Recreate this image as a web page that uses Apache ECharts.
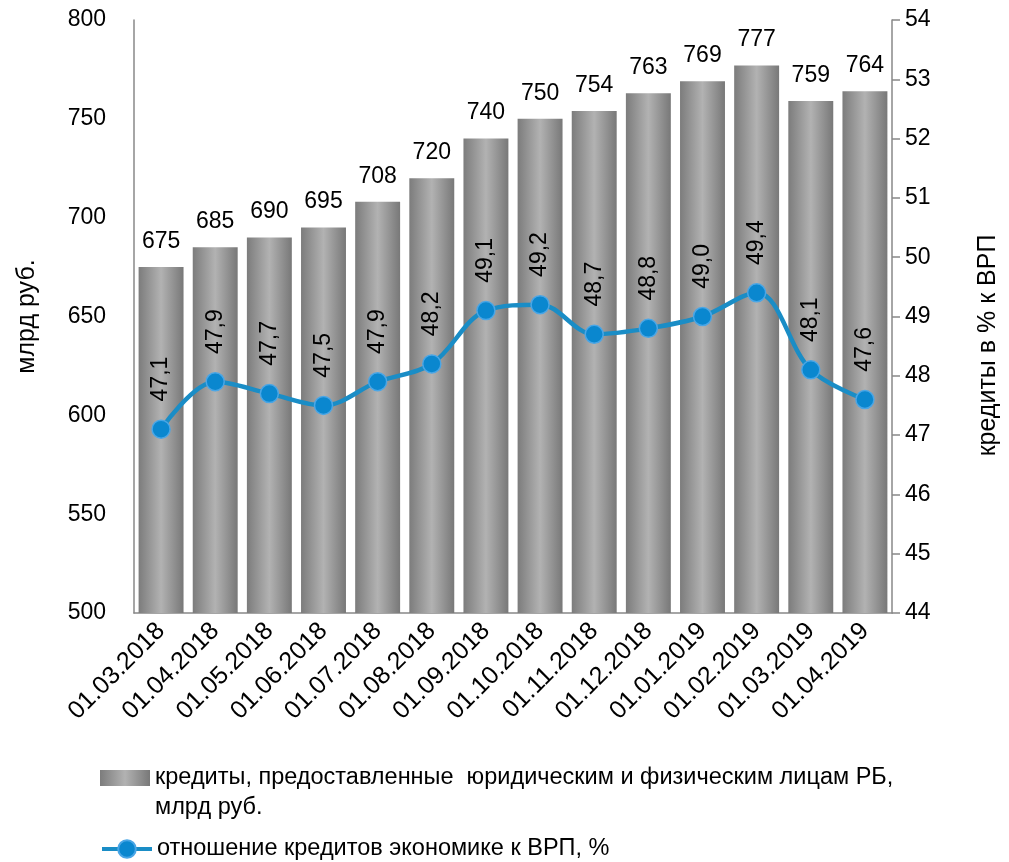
<!DOCTYPE html>
<html>
<head>
<meta charset="utf-8">
<script src="https://cdn.jsdelivr.net/npm/echarts@6/dist/echarts.min.js"></script>
<style>html,body{margin:0;padding:0;background:#fff;}#c{width:1009px;height:862px;}</style>
</head>
<body>
<div id="c"></div>
<script>
const categories = ['01.03.2018','01.04.2018','01.05.2018','01.06.2018','01.07.2018','01.08.2018','01.09.2018','01.10.2018','01.11.2018','01.12.2018','01.01.2019','01.02.2019','01.03.2019','01.04.2019'];
const credits = [675, 685, 690, 695, 708, 720, 740, 750, 754, 763, 769, 777, 759, 764];
const ratio = [47.1, 47.9, 47.7, 47.5, 47.9, 48.2, 49.1, 49.2, 48.7, 48.8, 49.0, 49.4, 48.1, 47.6];
const barName = 'кредиты, предоставленные  юридическим и физическим лицам РБ,\nмлрд руб.';
const lineName = 'отношение кредитов экономике к ВРП, %';
const leftAxisName = 'млрд руб.';
const rightAxisName = 'кредиты в % к ВРП';

const FONT = '"Liberation Sans", Arial, sans-serif';
const barGrad = new echarts.graphic.LinearGradient(0, 0, 1, 0, [
  {offset: 0, color: '#7c7c7c'},
  {offset: 0.5, color: '#b2b2b2'},
  {offset: 1, color: '#787878'}
]);
const legendText = {fontFamily: FONT, fontSize: 23.5, color: '#000', lineHeight: 30};
const chart = echarts.init(document.getElementById('c'));
chart.setOption({
  backgroundColor: '#fff',
  animation: false,
  textStyle: {fontFamily: FONT, color: '#000'},
  grid: {left: 134, right: 117, top: 20, bottom: 249, containLabel: false},
  legend: [
    {
      orient: 'vertical', left: 100, top: 733, padding: 0,
      itemWidth: 50, itemHeight: 16,
      textStyle: legendText,
      formatter: n => ' \n' + n,
      data: [{name: barName, icon: 'rect'}]
    },
    {
      orient: 'vertical', left: 100, top: 834, padding: 0,
      itemWidth: 50, itemHeight: 22,
      textStyle: legendText,
      lineStyle: {width: 4, color: '#1a8dc6'},
      data: [{name: lineName}]
    }
  ],
  xAxis: {
    type: 'category', data: categories,
    axisLine: {lineStyle: {color: '#888', width: 1.5}},
    axisTick: {show: false},
    axisLabel: {rotate: 45, fontSize: 25, color: '#000', fontFamily: FONT, margin: 14, interval: 0}
  },
  yAxis: [
    {
      type: 'value', min: 500, max: 800, interval: 50,
      name: leftAxisName, nameLocation: 'middle', nameGap: 94, nameRotate: 90,
      nameTextStyle: {fontSize: 25, color: '#000', fontFamily: FONT},
      axisLine: {show: true, lineStyle: {color: '#888', width: 1.5}},
      axisTick: {show: false},
      splitLine: {show: false},
      axisLabel: {fontSize: 23, color: '#000', fontFamily: FONT, margin: 28}
    },
    {
      type: 'value', min: 44, max: 54, interval: 1, position: 'right',
      name: rightAxisName, nameLocation: 'middle', nameGap: 84, nameRotate: 90,
      nameTextStyle: {fontSize: 25, color: '#000', fontFamily: FONT, padding: [0, 58, 0, 0]},
      axisLine: {show: true, lineStyle: {color: '#888', width: 1.5}},
      axisTick: {show: true, length: 8, lineStyle: {color: '#888', width: 1.5}},
      splitLine: {show: false},
      axisLabel: {fontSize: 23, color: '#000', fontFamily: FONT, margin: 13}
    }
  ],
  series: [
    {
      name: barName, type: 'bar', data: credits, yAxisIndex: 0,
      barCategoryGap: '17%',
      itemStyle: {color: barGrad},
      label: {show: true, position: 'top', distance: 14, fontSize: 23, color: '#000', fontFamily: FONT}
    },
    {
      name: lineName, type: 'line', data: ratio, yAxisIndex: 1,
      smooth: 0.35, symbol: 'circle', symbolSize: 18,
      lineStyle: {color: '#1a8dc6', width: 4.5},
      itemStyle: {color: '#0a87cf', borderColor: '#4aa6e6', borderWidth: 1.5},
      label: {
        show: true, position: 'top', distance: 18, rotate: 90,
        align: 'left', verticalAlign: 'middle',
        fontSize: 23, color: '#000', fontFamily: FONT,
        formatter: p => p.value.toFixed(1).replace('.', ',')
      },
      z: 5
    }
  ]
});
</script>
</body>
</html>
